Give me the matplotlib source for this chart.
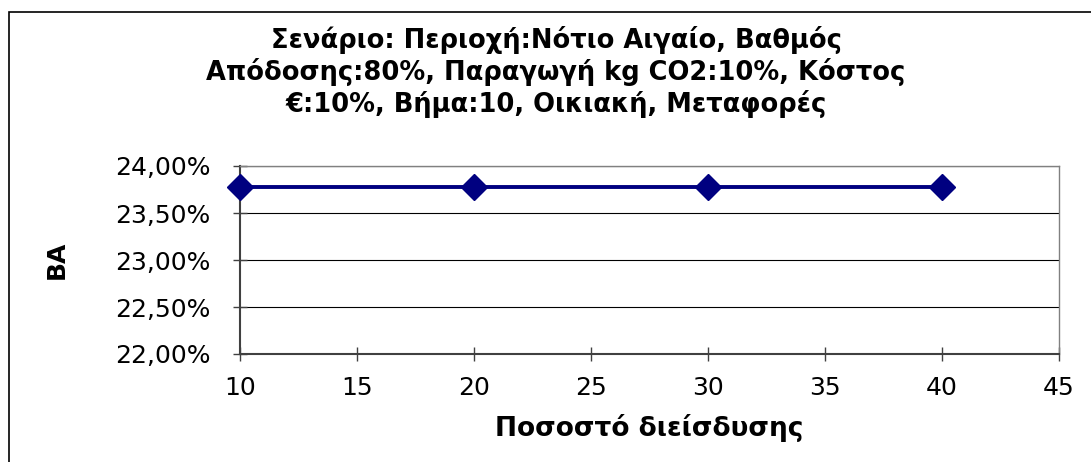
import matplotlib.pyplot as plt
from matplotlib.patches import Rectangle
from matplotlib.ticker import FuncFormatter, MultipleLocator

plt.rcParams['font.family'] = ['DejaVu Sans']

# penetration percentage vs. BA
penetration = [10, 20, 30, 40]
ba_values = [0.2378, 0.2378, 0.2378, 0.2378]

title_text = ("Σενάριο: Περιοχή:Νότιο Αιγαίο, Βαθμός\n"
              "Απόδοσης:80%, Παραγωγή kg CO2:10%, Κόστος\n"
              "€:10%, Βήμα:10, Οικιακή, Μεταφορές")

W, H = 1091, 462
L, R, T, B = 240, 1059, 166, 354
fig = plt.figure(figsize=(W / 100, H / 100), dpi=100)
ax = fig.add_axes([L / W, 1 - B / H, (R - L) / W, (B - T) / H])

# outer chart frame
fig.patches.append(Rectangle((9 / W, -0.1), 1.2, 1.1 - 12 / H,
                             transform=fig.transFigure, fill=False,
                             edgecolor='black', linewidth=1.2))

ax.plot(penetration, ba_values, color='#000080', linewidth=2.8,
        marker='D', markersize=13, markerfacecolor='#000080',
        markeredgecolor='#000080', clip_on=False, zorder=3)

ax.set_xlim(10, 45)
ax.set_ylim(0.22, 0.24)
ax.xaxis.set_major_locator(MultipleLocator(5))
ax.yaxis.set_major_locator(MultipleLocator(0.005))
ax.yaxis.set_major_formatter(
    FuncFormatter(lambda v, p: f"{v * 100:.2f}%".replace('.', ',')))

ax.grid(axis='y', color='black', linewidth=0.8)
ax.set_axisbelow(True)
for side in ['top', 'right']:
    ax.spines[side].set_color('#808080')
    ax.spines[side].set_linewidth(1.0)
ax.spines['left'].set_color('#404040')
ax.spines['left'].set_linewidth(1.5)
ax.spines['bottom'].set_color('#404040')
ax.spines['bottom'].set_linewidth(1.5)

ax.tick_params(axis='both', direction='inout', length=10, width=1,
               labelsize=18, color='#404040')
ax.tick_params(axis='x', pad=11)
ax.tick_params(axis='y', pad=16)

ax.set_xlabel("Ποσοστό διείσδυσης", fontsize=19, fontweight='bold')
ax.xaxis.set_label_coords(0.5, -(428 - B) / (B - T), transform=ax.transAxes)
ax.xaxis.label.set_va('center')
ax.set_ylabel("ΒΑ", fontsize=18, fontweight='bold')
ax.yaxis.set_label_coords(-(L - 57) / (R - L), 0.5)
ax.yaxis.label.set_va('center')

fig.text(556 / W, 1 - 72 / H, title_text, ha='center', va='center',
         fontsize=18.5, fontweight='bold', linespacing=1.19)

fig.savefig('out.png', dpi=100)
